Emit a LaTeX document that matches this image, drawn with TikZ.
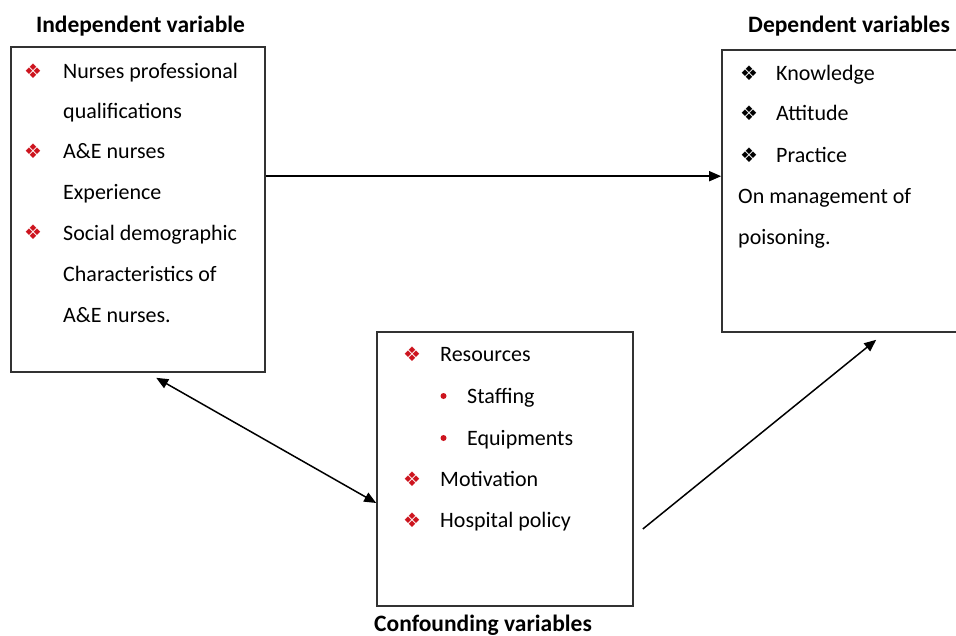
\documentclass[tikz,border=0pt]{standalone}
\usepackage{fontspec}
\setmainfont{Carlito}
\newfontfamily\symfont{DejaVu Sans}
\usetikzlibrary{arrows.meta}
\definecolor{bred}{RGB}{205,20,30}
\definecolor{boxgray}{RGB}{50,50,50}
\tikzset{
  box/.style={draw=boxgray, line width=1.6pt, minimum width=#1, inner sep=0pt},
  body/.style={anchor=base west, inner sep=0pt, font=\fontsize{22}{26}\selectfont},
  ttl/.style={anchor=base, inner sep=0pt, font=\fontsize{23.5}{28}\selectfont\bfseries},
  rbul/.style={inner sep=0pt, text=bred, font=\symfont\fontsize{20}{24}\selectfont},
  kbul/.style={inner sep=0pt, text=black, font=\symfont\fontsize{20}{24}\selectfont},
  dotbul/.style={circle, fill=bred, inner sep=0pt, minimum size=6pt},
  arr/.style={line width=1.5pt, -{Triangle[length=12pt,width=10pt]}},
  darr/.style={line width=1.5pt, {Triangle[length=12pt,width=10pt]}-{Triangle[length=12pt,width=10pt]}}
}
\begin{document}
\begin{tikzpicture}[x=1pt,y=-1pt]
\clip (0,0) rectangle (956,635);
\fill[white] (0,0) rectangle (956,635);
% boxes
\node[box=254pt, minimum height=325pt] (indep) at (138,209.5) {};
\node[box=260pt, minimum height=282pt] (dep) at (852,191) {};
\node[box=256pt, minimum height=274pt] (conf) at (505,469) {};
% titles
\node[ttl] (t1) at (140.5,32) {Independent variable};
\node[ttl, anchor=base west] (t2) at (748,32) {Dependent variables};
\node[ttl] (t3) at (483,631) {Confounding variables};
% left box
\node[rbul] (b1) at (33,71) {❖};
\node[body] (l1) at (63,78) {Nurses professional};
\node[body] (l2) at (63,118.5) {qualifications};
\node[rbul] (b2) at (33,151) {❖};
\node[body] (l3) at (63,158.5) {A\&E nurses};
\node[body] (l4) at (63,199) {Experience};
\node[rbul] (b3) at (33,232) {❖};
\node[body] (l5) at (63,240) {Social demographic};
\node[body] (l6) at (63,281) {Characteristics of};
\node[body] (l7) at (63,322) {A\&E nurses.};
% right box
\node[kbul] (k1) at (749,73) {❖};
\node[body] (r1) at (776,80) {Knowledge};
\node[kbul] (k2) at (749,113) {❖};
\node[body] (r2) at (776,120) {Attitude};
\node[kbul] (k3) at (749,155) {❖};
\node[body] (r3) at (776,162) {Practice};
\node[body] (r4) at (738,203) {On management of};
\node[body] (r5) at (738,244) {poisoning.};
% middle box
\node[rbul] (c1) at (412,354) {❖};
\node[body] (m1) at (440,361) {Resources};
\node[dotbul] (d1) at (443.5,396) {};
\node[body] (m2) at (467,403) {Staffing};
\node[dotbul] (d2) at (443.5,438) {};
\node[body] (m3) at (467,445) {Equipments};
\node[rbul] (c2) at (412,479) {❖};
\node[body] (m4) at (440,486) {Motivation};
\node[rbul] (c3) at (412,520) {❖};
\node[body] (m5) at (440,527) {Hospital policy};
% connectors
\draw[arr] ([yshift=-130pt]indep.north east) -- ([yshift=-130pt]indep.north east -| dep.west);
\draw[darr] ([xshift=146pt,yshift=-5pt]indep.south west) -- ([yshift=-34pt]conf.west);
\draw[arr] ([xshift=9pt,yshift=-60pt]conf.east) -- ([xshift=155pt,yshift=-7pt]dep.south west);
\end{tikzpicture}
\end{document}
